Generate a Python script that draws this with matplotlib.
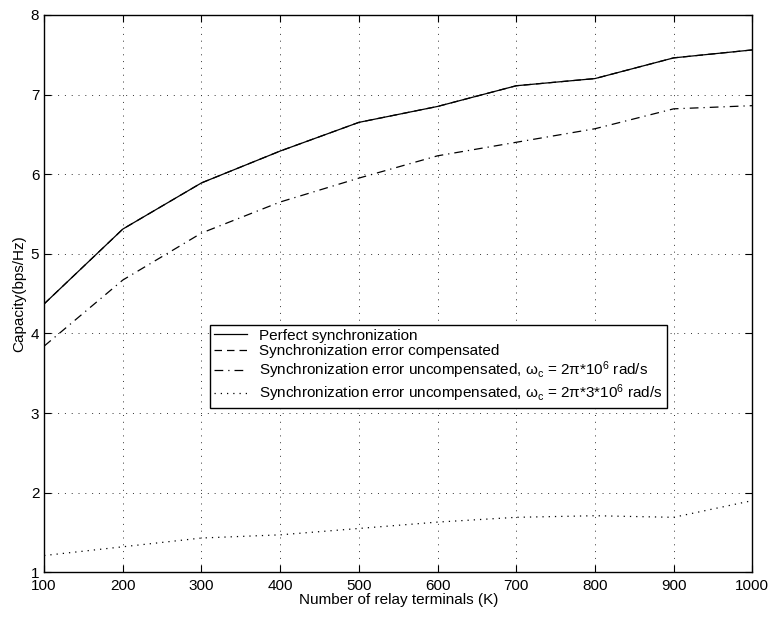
import numpy as np
import matplotlib
matplotlib.use("Agg")
import matplotlib.pyplot as plt

# ----------------------------------------------------------
# Datos
# ----------------------------------------------------------

relays = [100, 200, 300, 400, 500, 600, 700, 800, 900, 1000]

perfect = [4.37, 5.31, 5.89, 6.29, 6.65, 6.85, 7.11, 7.20, 7.46, 7.56]

compensated = [4.37, 5.31, 5.89, 6.29, 6.65, 6.85, 7.11, 7.20, 7.46, 7.56]

uncomp_1 = [3.84, 4.67, 5.26, 5.65, 5.95, 6.23, 6.40, 6.57, 6.82, 6.86]

uncomp_3 = [1.21, 1.32, 1.43, 1.47, 1.55, 1.63, 1.69, 1.71, 1.69, 1.90]

labels = [
    "Perfect synchronization",
    "Synchronization error compensated",
    r"Synchronization error uncompensated, ω$_{\rm c}$ = 2π*10$^{\mathsf{6}}$ rad/s",
    r"Synchronization error uncompensated, ω$_{\rm c}$ = 2π*3*10$^{\mathsf{6}}$ rad/s",
]

x_ticks = [100, 200, 300, 400, 500, 600, 700, 800, 900, 1000]
y_ticks = [1, 2, 3, 4, 5, 6, 7, 8]

# ----------------------------------------------------------
# Estilo
# ----------------------------------------------------------

plt.rcParams["font.family"] = ["Liberation Sans", "DejaVu Sans"]
plt.rcParams["font.size"] = 11
plt.rcParams["mathtext.fontset"] = "custom"
plt.rcParams["mathtext.rm"] = "Liberation Sans"
plt.rcParams["mathtext.sf"] = "Liberation Sans"
plt.rcParams["mathtext.it"] = "Liberation Sans:italic"

fig = plt.figure(figsize=(7.74, 6.2), dpi=100)
ax = fig.add_axes([0.057, 0.077, 0.915, 0.899])

ax.plot(relays, compensated, color="black", lw=0.9, ls=(0, (6, 4)), label=labels[1], zorder=2)
ax.plot(relays, perfect, color="black", lw=0.9, ls="-", label=labels[0], zorder=3)
ax.plot(relays, uncomp_1, color="black", lw=0.9, ls=(0, (7, 4, 1, 4)), label=labels[2], zorder=3)
ax.plot(relays, uncomp_3, color="black", lw=0.9, ls=(0, (1, 4)), label=labels[3], zorder=3)

ax.set_xlim(100, 1000)
ax.set_ylim(1, 8)
ax.set_xticks(x_ticks)
ax.set_yticks(y_ticks)

ax.grid(True, color="#333333", ls=(0, (1, 6)), lw=0.7)
ax.tick_params(direction="in", top=True, right=True, length=5, width=0.8, labelsize=11)
ax.tick_params(axis="x", pad=5)
for s in ax.spines.values():
    s.set_linewidth(1.0)

ax.set_xlabel("Number of relay terminals (K)", labelpad=0)
ax.set_ylabel("Capacity(bps/Hz)", labelpad=3)

handles, labs = ax.get_legend_handles_labels()
order = [1, 0, 2, 3]
leg = ax.legend(
    [handles[i] for i in order],
    [labs[i] for i in order],
    loc="upper left",
    bbox_to_anchor=(0.234, 0.444),
    fancybox=False,
    framealpha=1,
    edgecolor="black",
    fontsize=11,
    handlelength=2.2,
    labelspacing=0.1,
    borderpad=0.25,
    borderaxespad=0,
)
leg.get_frame().set_linewidth(1.0)

fig.savefig("out.png", dpi=100)
plt.close(fig)
